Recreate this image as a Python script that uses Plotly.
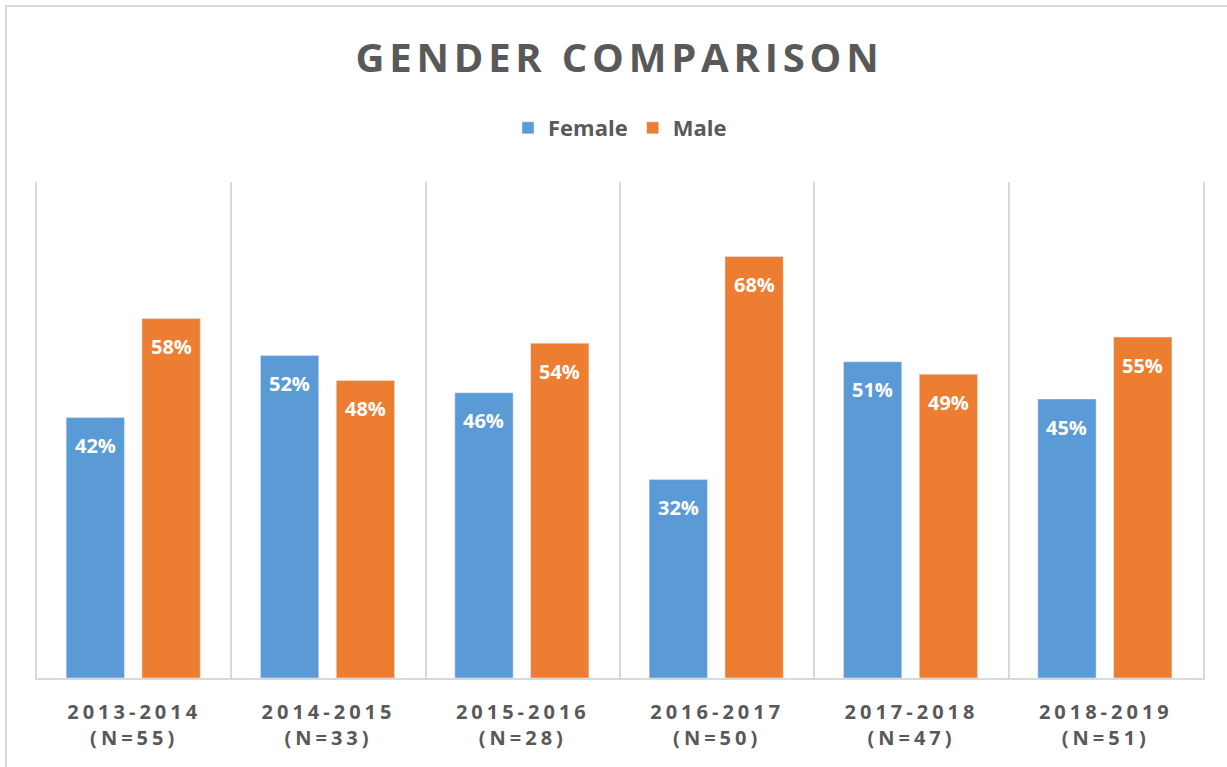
import plotly.graph_objects as go

years = ["2013-2014", "2014-2015", "2015-2016", "2016-2017", "2017-2018", "2018-2019"]
counts = [55, 33, 28, 50, 47, 51]
female = [0.42, 0.52, 0.46, 0.32, 0.51, 0.45]
male = [0.58, 0.48, 0.54, 0.68, 0.49, 0.55]

tick_text = [f"{y}<br>(N={n})" for y, n in zip(years, counts)]

BLUE = "#5B9BD5"
ORANGE = "#ED7D31"
GRAY = "#595959"
LIGHT = "#D9D9D9"
FONT = "Open Sans"

W, H = 1227, 767
L, R, T, B = 37, 24, 182, 89
bar_w = 0.30
off_f = -0.35
off_m = 0.04

fig = go.Figure()
fig.add_trace(go.Bar(name="Female", x=years, y=female, marker_color=BLUE,
                     width=bar_w, offset=off_f, hoverinfo="skip"))
fig.add_trace(go.Bar(name="Male", x=years, y=male, marker_color=ORANGE,
                     width=bar_w, offset=off_m, hoverinfo="skip"))

annotations = []
for i, (f, m) in enumerate(zip(female, male)):
    for val, off in ((f, off_f), (m, off_m)):
        annotations.append(dict(
            x=i + off + bar_w / 2, y=val, xref="x", yref="y",
            text=f"{round(val * 100)}%", showarrow=False,
            yanchor="middle", yshift=-28,
            font=dict(family=FONT, size=20, color="white", weight="bold"),
        ))

plot_h = H - T - B
plot_w = W - L - R
fig.update_layout(
    width=W, height=H,
    margin=dict(l=L, r=R, t=T, b=B),
    paper_bgcolor="white", plot_bgcolor="white",
    barmode="overlay",
    title=dict(text="GENDER COMPARISON", x=0.5 + 6 / W, xanchor="center",
               y=1 - 58 / H, yanchor="middle",
               font=dict(family=FONT, size=40, color=GRAY, weight="bold")),
    legend=dict(orientation="h", x=0.5, xanchor="center",
                y=(H - B - 128) / plot_h, yanchor="middle",
                font=dict(family=FONT, size=22, color=GRAY, weight="bold"),
                itemclick=False, itemdoubleclick=False),
    xaxis=dict(type="category", tickson="boundaries", showgrid=True,
               gridcolor=LIGHT, gridwidth=2, showline=True, linecolor=LIGHT,
               linewidth=2, ticks="", tickmode="array", tickvals=years,
               ticktext=tick_text, ticklabelstandoff=15,
               tickfont=dict(family=FONT, size=20, color=GRAY, weight="bold"),
               range=[-0.5, 5.5]),
    yaxis=dict(range=[0, 0.8], showgrid=False, zeroline=False,
               showticklabels=False, ticks="", showline=True, mirror=True,
               linecolor=LIGHT, linewidth=2),
    annotations=annotations,
    shapes=[dict(type="rect", xref="paper", yref="paper",
                 x0=(6 - L) / plot_w, x1=1.06,
                 y0=-0.3, y1=(H - B - 6) / plot_h,
                 line=dict(color=LIGHT, width=2), layer="below")],
    showlegend=True,
)

post = """
document.body.style.margin='0';
var gd = document.getElementById('{plot_id}');
gd.querySelectorAll('.gtitle').forEach(function(t){t.style.letterSpacing='4.8px';});
gd.querySelectorAll('.xtick text').forEach(function(t){t.style.letterSpacing='4px';});
"""
fig.write_html("out.html", post_script=post, config={"displayModeBar": False})
